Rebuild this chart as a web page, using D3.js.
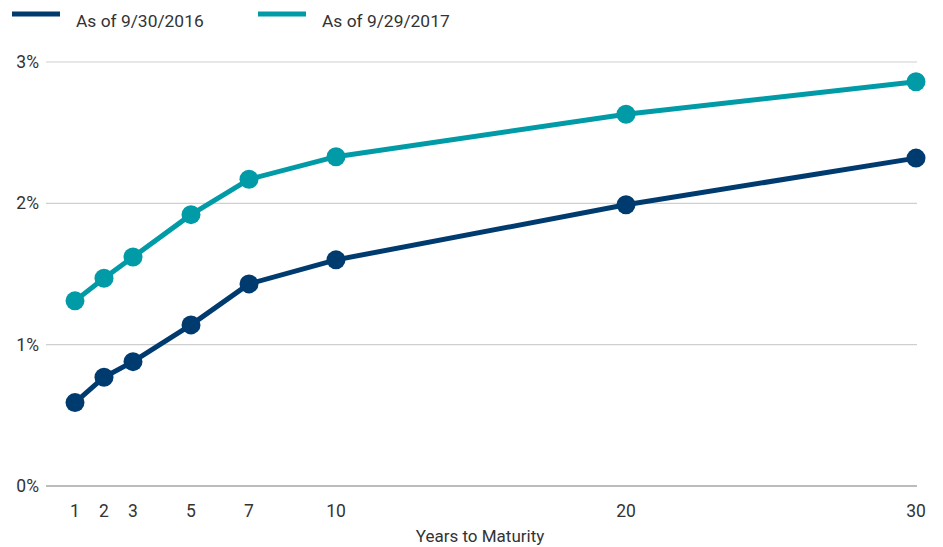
<!DOCTYPE html>
<html>
<head>
<meta charset="utf-8">
<script src="https://cdn.jsdelivr.net/npm/d3@7"></script>
<style>
  html, body { margin: 0; padding: 0; background: #fff; }
  svg { display: block; font-family: Roboto, "Open Sans", sans-serif; }
</style>
</head>
<body>
<svg id="chart" width="943" height="547"></svg>
<script>
// Treasury yield curve: years to maturity vs. yield (%)
const maturities = [1, 2, 3, 5, 7, 10, 20, 30];
const yields2016 = [0.59, 0.77, 0.88, 1.14, 1.43, 1.60, 1.99, 2.32];
const yields2017 = [1.31, 1.47, 1.62, 1.92, 2.17, 2.33, 2.63, 2.86];
const seriesNames = ["As of 9/30/2016", "As of 9/29/2017"];
const seriesColors = ["#003b6f", "#009ba6"];
const yTicks = [0, 1, 2, 3];
const xTicks = maturities;
const xTitle = "Years to Maturity";

const svg = d3.select("#chart");
const x = d3.scaleLinear().domain([0, 30]).range([46, 916]);
const y = d3.scaleLinear().domain([0, 3]).range([486, 62]);

// horizontal gridlines
svg.append("g").selectAll("line").data(yTicks).join("line")
  .attr("x1", 46).attr("x2", 917)
  .attr("y1", d => y(d)).attr("y2", d => y(d))
  .attr("stroke", d => d === 0 ? "#bcbcbc" : "#cfcfcf")
  .attr("stroke-width", d => d === 0 ? 2 : 1.2);

// y axis labels
svg.append("g").selectAll("text").data(yTicks).join("text")
  .attr("x", 39).attr("y", d => y(d)).attr("dy", "0.35em")
  .attr("text-anchor", "end").attr("font-size", 17.5).attr("fill", "#333")
  .text(d => d + "%");

// x axis labels
svg.append("g").selectAll("text").data(xTicks).join("text")
  .attr("x", d => x(d)).attr("y", 517)
  .attr("text-anchor", "middle").attr("font-size", 17.5).attr("fill", "#333")
  .text(d => d);

svg.append("text").attr("x", 480).attr("y", 542)
  .attr("text-anchor", "middle").attr("font-size", 17).attr("fill", "#333")
  .text(xTitle);

// series lines and markers
const series = [yields2016, yields2017];
const line = d3.line().x((d, i) => x(maturities[i])).y(d => y(d));
series.forEach((vals, s) => {
  const g = svg.append("g");
  g.append("path").datum(vals).attr("d", line)
    .attr("fill", "none").attr("stroke", seriesColors[s])
    .attr("stroke-width", 5).attr("stroke-linejoin", "round");
  g.selectAll("circle").data(vals).join("circle")
    .attr("cx", (d, i) => x(maturities[i])).attr("cy", d => y(d))
    .attr("r", 9.5).attr("fill", seriesColors[s]);
});

// legend
const legendX = [12, 258];
seriesNames.forEach((name, s) => {
  svg.append("line")
    .attr("x1", legendX[s]).attr("x2", legendX[s] + 48)
    .attr("y1", 14).attr("y2", 14)
    .attr("stroke", seriesColors[s]).attr("stroke-width", 5);
  svg.append("text")
    .attr("x", legendX[s] + 64).attr("y", 27)
    .attr("font-size", 17.4).attr("fill", "#333")
    .text(name);
});
</script>
</body>
</html>
